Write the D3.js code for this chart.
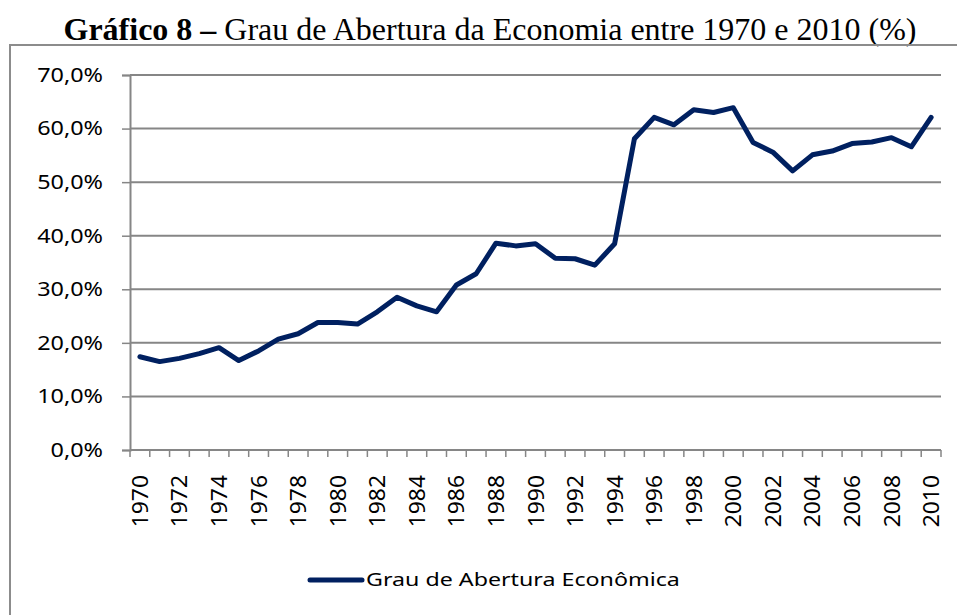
<!DOCTYPE html>
<html lang="pt-BR">
<head>
  <meta charset="UTF-8">
  <title>Grau de Abertura da Economia entre 1970 e 2010</title>
  <style>
    body { margin: 0; background: #fff; }
  </style>
</head>
<body>
<script src="https://d3js.org/d3.v7.min.js"></script>
<script type="text/javascript">

  // dados
  var years = d3.range(1970, 2011).map(String);
  var abertura = [
    17.4, 16.5, 17.1, 18.0, 19.1, 16.7, 18.5, 20.7, 21.7, 23.8,
    23.8, 23.5, 25.8, 28.5, 26.9, 25.8, 30.8, 32.9, 38.6, 38.1,
    38.5, 35.8, 35.7, 34.5, 38.5, 58.1, 62.1, 60.7, 63.5, 63.0,
    63.9, 57.4, 55.6, 52.1, 55.1, 55.8, 57.2, 57.5, 58.3, 56.6,
    62.1
  ];
  var yTicks = [0, 10, 20, 30, 40, 50, 60, 70];
  var seriesName = "Grau de Abertura Econômica";

  var W = 957, H = 615;
  var margin = { top: 75, left: 130 };
  var width = 941 - margin.left,
    height = 450 - margin.top;

  var svg = d3.select("body")
    .append("svg")
    .attr("width", W)
    .attr("height", H);

  // título
  var title = svg.append("text")
    .attr("x", 490)
    .attr("y", 40)
    .attr("text-anchor", "middle")
    .style("font-family", "'Liberation Serif', 'Times New Roman', serif")
    .style("font-size", "32px");
  title.append("tspan").style("font-weight", "bold").text("Gráfico 8 –");
  title.append("tspan").text(" Grau de Abertura da Economia entre 1970 e 2010 (%)");

  // moldura do gráfico
  svg.append("rect")
    .attr("x", 10)
    .attr("y", 45)
    .attr("width", W + 20)
    .attr("height", H + 20)
    .attr("fill", "none")
    .attr("stroke", "#8c8c8c")
    .attr("stroke-width", 2);

  var g = svg.append("g")
    .attr("transform", "translate(" + margin.left + "," + margin.top + ")");

  var x = d3.scaleBand()
    .domain(years)
    .range([0, width]);

  var y = d3.scaleLinear()
    .domain([0, 70])
    .range([height, 0]);

  var axisColor = "#868686";
  var labelFont = "'Noto Sans', 'Open Sans', sans-serif";

  // eixo y com grade
  var yAxis = d3.axisLeft(y)
    .tickValues(yTicks)
    .tickSize(8)
    .tickFormat("");

  var gy = g.append("g").call(yAxis);
  gy.select(".domain").attr("stroke", axisColor).attr("stroke-width", 2);
  gy.selectAll(".tick line").attr("stroke", axisColor).attr("stroke-width", 1.5);

  // rótulos do eixo y (fonte alargada como no original)
  g.append("g")
    .selectAll("text")
    .data(yTicks)
    .enter()
    .append("text")
    .attr("transform", function(d) { return "translate(-27," + y(d) + ") scale(1.23,1)"; })
    .attr("text-anchor", "end")
    .attr("dy", "0.36em")
    .attr("fill", "#000")
    .style("font-family", labelFont)
    .style("font-size", "19px")
    .text(function(d) { return d.toFixed(1).replace(".", ",") + "%"; });

  g.append("g")
    .selectAll("line")
    .data(yTicks.slice(1))
    .enter()
    .append("line")
    .attr("x1", 0)
    .attr("x2", width)
    .attr("y1", function(d) { return y(d); })
    .attr("y2", function(d) { return y(d); })
    .attr("stroke", axisColor)
    .attr("stroke-width", 2);

  // eixo x: marcas entre categorias
  var gx = g.append("g").attr("transform", "translate(0," + height + ")");
  gx.append("line")
    .attr("x1", 0)
    .attr("x2", width)
    .attr("stroke", axisColor)
    .attr("stroke-width", 2);
  gx.selectAll("line.tk")
    .data(years.concat(["end"]))
    .enter()
    .append("line")
    .attr("class", "tk")
    .attr("x1", function(d, i) { return i * x.step(); })
    .attr("x2", function(d, i) { return i * x.step(); })
    .attr("y1", 0)
    .attr("y2", 7)
    .attr("stroke", axisColor)
    .attr("stroke-width", 1.5);

  gx.selectAll("text")
    .data(years.filter(function(d, i) { return i % 2 === 0; }))
    .enter()
    .append("text")
    .attr("transform", function(d) {
      return "translate(" + (x(d) + x.bandwidth() / 2 + 8) + ",25) rotate(-90) scale(1.09,1)";
    })
    .attr("text-anchor", "end")
    .attr("fill", "#000")
    .style("font-family", labelFont)
    .style("font-size", "21px")
    .text(function(d) { return d; });

  // linha da série
  var line = d3.line()
    .x(function(d, i) { return x(years[i]) + x.bandwidth() / 2; })
    .y(function(d) { return y(d); });

  g.append("path")
    .datum(abertura)
    .attr("fill", "none")
    .attr("stroke", "#002060")
    .attr("stroke-width", 5)
    .attr("stroke-linejoin", "round")
    .attr("stroke-linecap", "round")
    .attr("d", line);

  // legenda
  var legend = svg.append("g").attr("transform", "translate(310,580)");
  legend.append("line")
    .attr("x1", 0)
    .attr("x2", 52)
    .attr("stroke", "#002060")
    .attr("stroke-width", 5)
    .attr("stroke-linecap", "round");
  legend.append("text")
    .attr("transform", "translate(56,0) scale(1.29,1)")
    .attr("dy", "0.35em")
    .attr("fill", "#000")
    .style("font-family", labelFont)
    .style("font-size", "18px")
    .text(seriesName);

</script>
</body>
</html>
